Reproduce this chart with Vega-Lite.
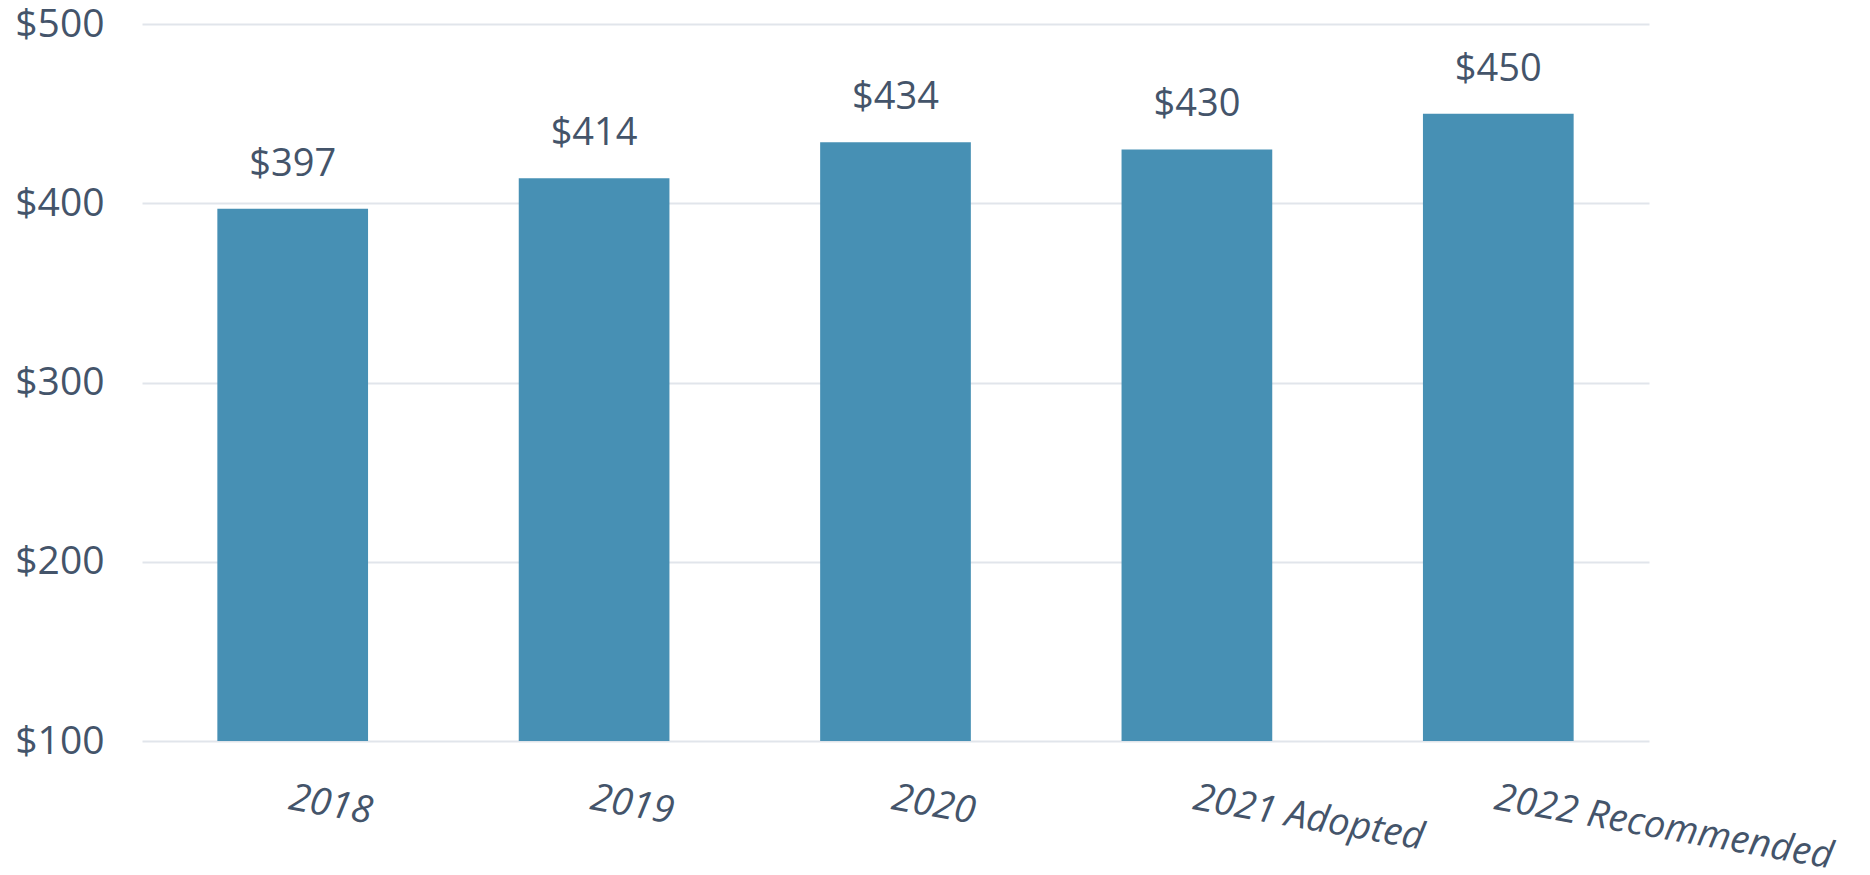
{
  "$schema": "https://vega.github.io/schema/vega-lite/v6.json",
  "width": 1507,
  "height": 717,
  "autosize": {"type": "none"},
  "padding": {"left": 142, "top": 24, "right": 221, "bottom": 134},
  "background": "white",
  "config": {
    "view": {"stroke": null},
    "font": "Open Sans"
  },
  "data": {
    "values": [
      {"year": "2018", "value": 397},
      {"year": "2019", "value": 414},
      {"year": "2020", "value": 434},
      {"year": "2021 Adopted", "value": 430},
      {"year": "2022 Recommended", "value": 450}
    ]
  },
  "encoding": {
    "x": {
      "field": "year",
      "type": "nominal",
      "sort": null,
      "scale": {"paddingInner": 0.5, "paddingOuter": 0.25},
      "axis": {
        "title": null,
        "domain": false,
        "ticks": false,
        "labelAngle": 10,
        "labelAlign": "left",
        "labelBaseline": "top",
        "labelPadding": 38,
        "labelFontSize": 38,
        "labelFontStyle": "italic",
        "labelColor": "#44546A",
        "labelFont": "Open Sans",
        "labelLimit": 0,
        "labelOverlap": false
      }
    },
    "y": {
      "field": "value",
      "type": "quantitative",
      "scale": {"domain": [100, 500], "zero": false, "nice": false},
      "axis": {
        "title": null,
        "domain": false,
        "ticks": false,
        "values": [100, 200, 300, 400, 500],
        "labelExpr": "'$' + datum.value",
        "labelFontSize": 39,
        "labelColor": "#44546A",
        "labelPadding": 38,
        "labelFont": "Open Sans",
        "gridColor": "#E1E5EB",
        "gridWidth": 2
      }
    }
  },
  "layer": [
    {
      "mark": {"type": "bar", "color": "#4790B4"},
      "encoding": {"y2": {"datum": 100}}
    },
    {
      "mark": {"type": "text", "baseline": "alphabetic", "dy": -33, "fontSize": 38, "color": "#44546A", "font": "Open Sans"},
      "encoding": {"text": {"field": "value", "type": "quantitative", "format": "$.0f"}}
    }
  ]
}
